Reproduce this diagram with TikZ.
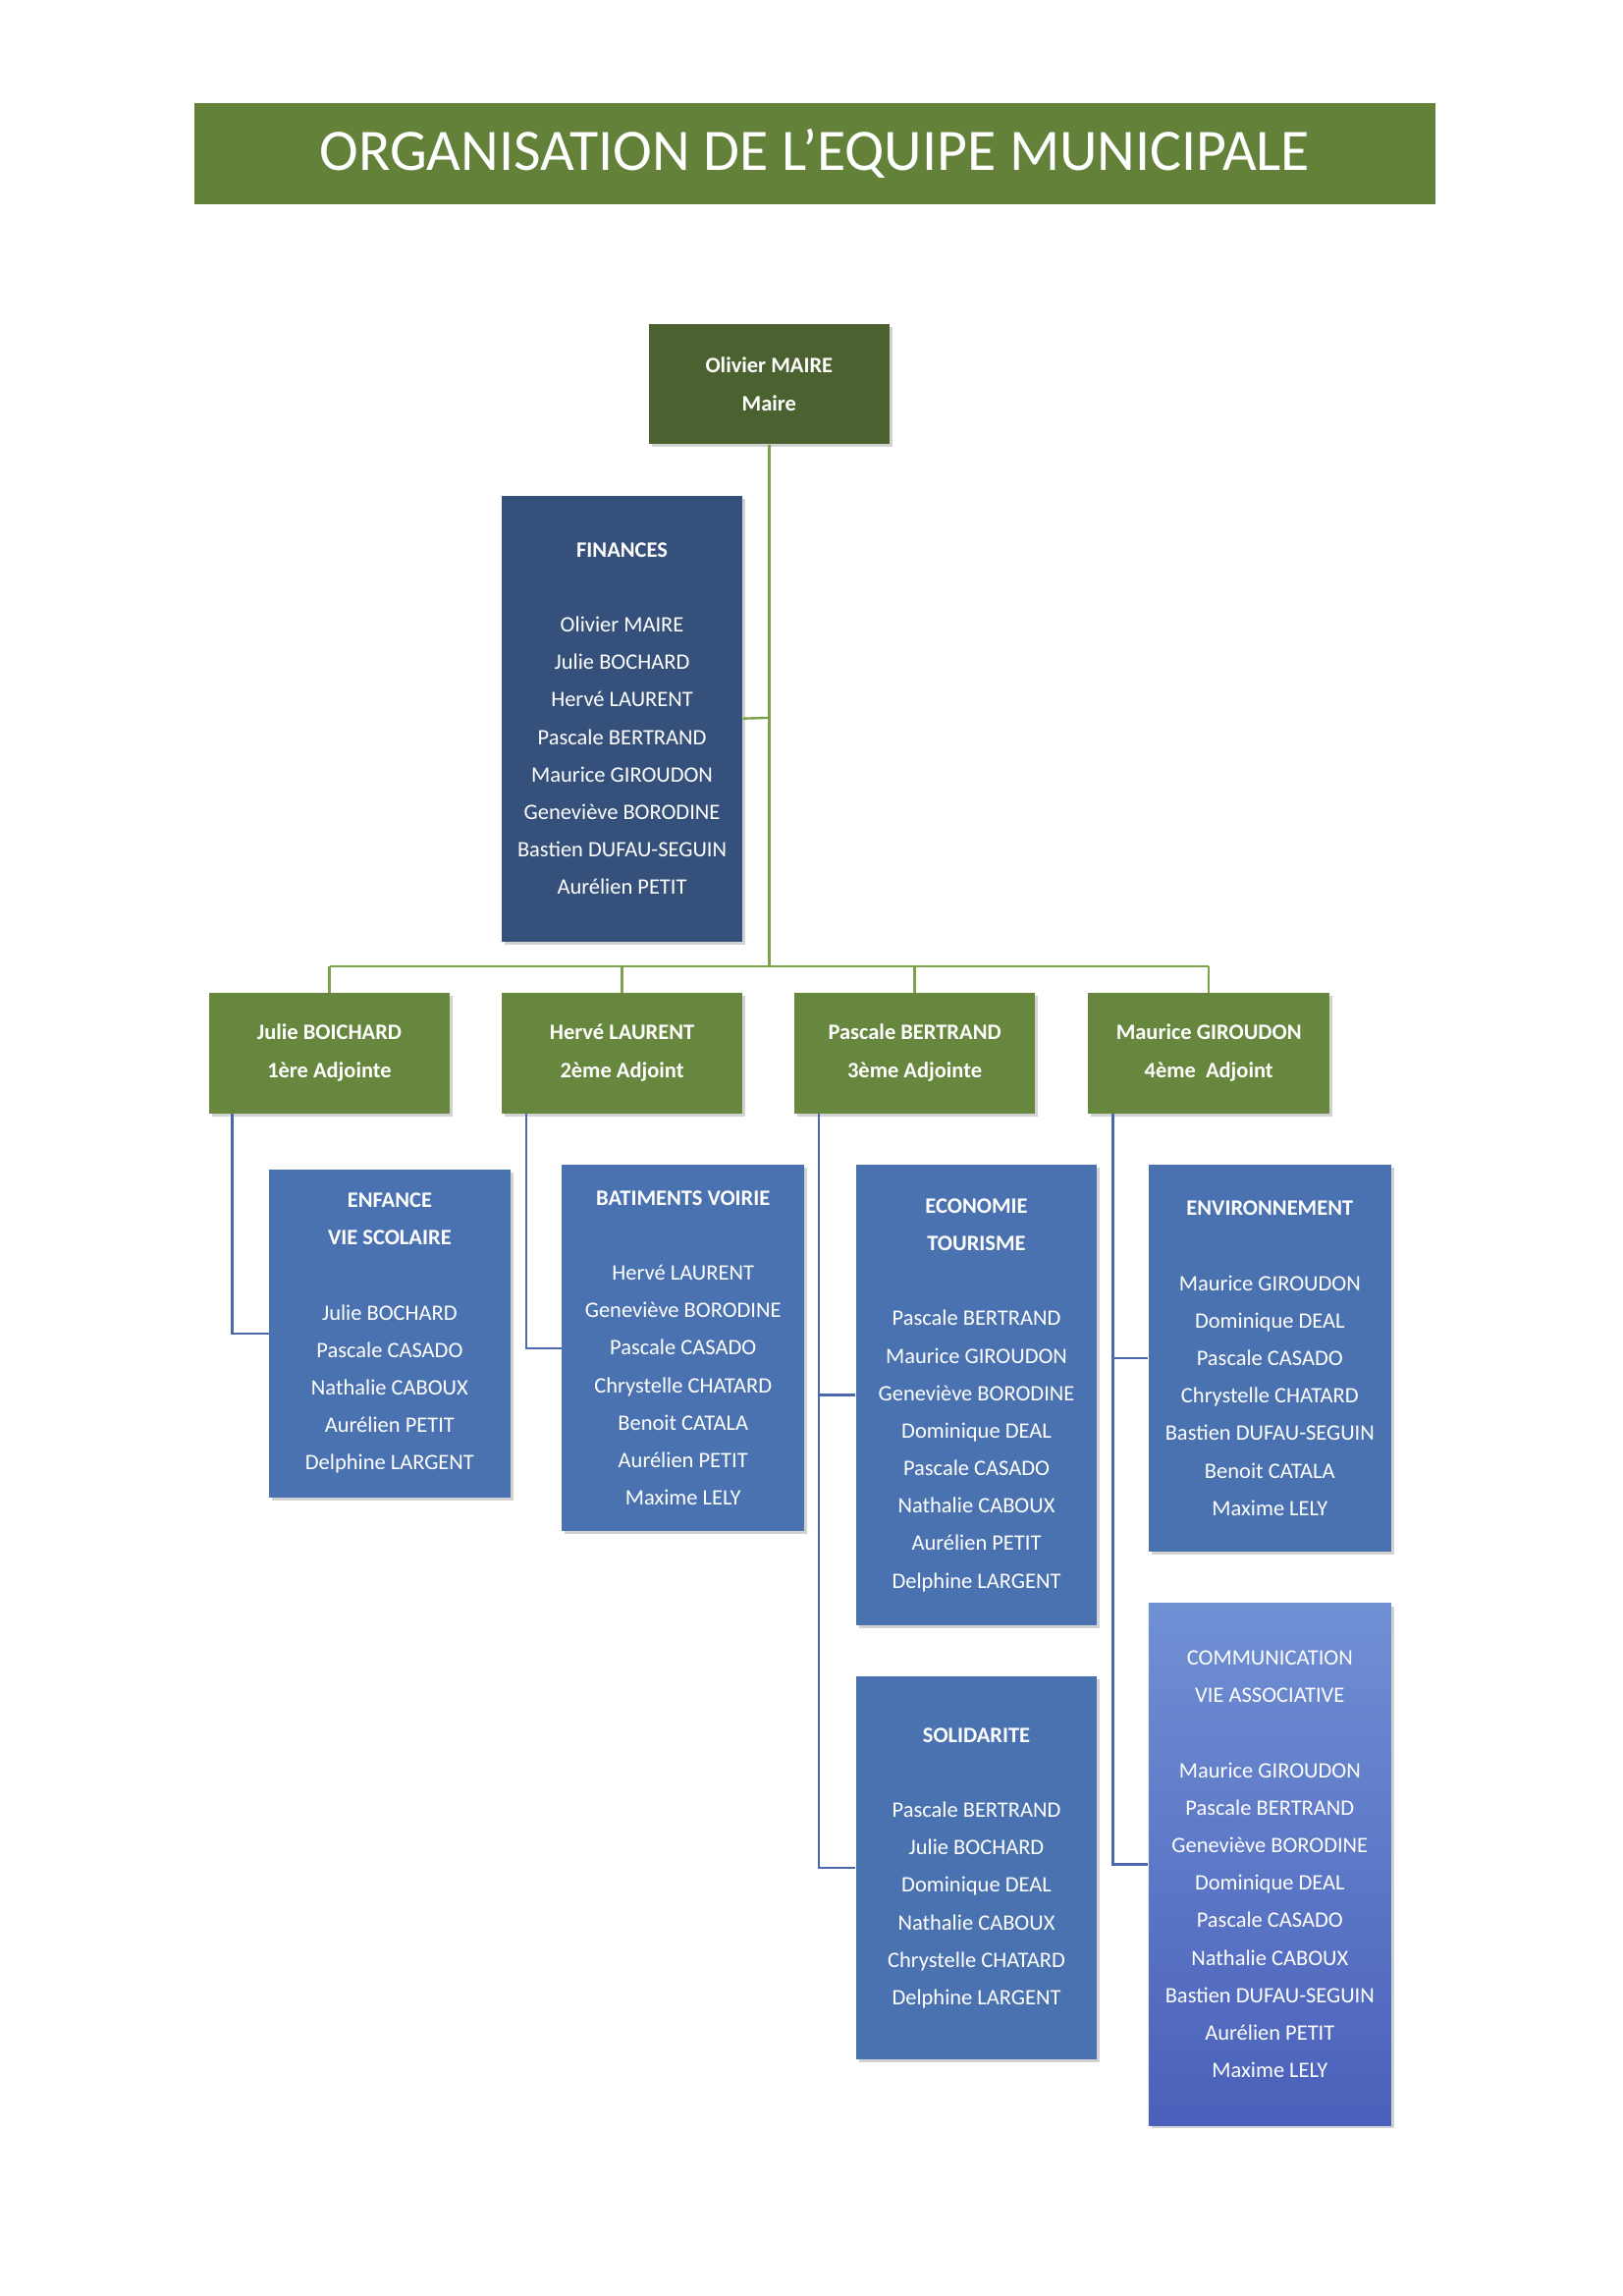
\documentclass[tikz,border=0pt]{standalone}
\usepackage{fontspec}
\setmainfont{Carlito}
\usetikzlibrary{shadows}
\definecolor{tgreen}{HTML}{64813A}
\definecolor{dgreen}{HTML}{4B6230}
\definecolor{agreen}{HTML}{66873D}
\definecolor{dblue}{HTML}{35507B}
\definecolor{mblue}{HTML}{4A72B1}
\definecolor{lgreen}{HTML}{7FA04E}
\definecolor{lblue}{HTML}{4C69B0}
\definecolor{ctop}{HTML}{7090D4}
\definecolor{cbot}{HTML}{4A60BA}
\begin{document}
\begin{tikzpicture}[x=1pt,y=-1pt,
 box/.style={draw=none,text=white,align=center,font=\fontsize{15}{25.5}\selectfont,inner sep=0,drop shadow={shadow xshift=2pt,shadow yshift=-2pt,opacity=0.35}},
 gline/.style={draw=lgreen,line width=1.6pt},
 bline/.style={draw=lblue,line width=1.6pt}]
\useasboundingbox (0,0) rectangle (1103,1561);
\fill[white] (0,0) rectangle (1103,1561);
\node[fill=tgreen,minimum width=844,minimum height=69,text=white,font=\fontsize{40}{40}\selectfont,inner sep=0] (title) at (554,104.5) {ORGANISATION DE L’EQUIPE MUNICIPALE};
\coordinate (j) at (523,657);
\coordinate (jl) at (224,657);
\coordinate (jr) at (822,657);
\coordinate (jf) at (523,488);
\node[box,fill=dgreen,minimum width=164,minimum height=82,font=\bfseries\fontsize{15}{26}\selectfont] (maire) at (523,261) {Olivier MAIRE\\Maire};
\node[box,fill=dblue,minimum width=164,minimum height=303] (fin) at (423,488.5) {\textbf{FINANCES}\\ \\Olivier MAIRE\\Julie BOCHARD\\Hervé LAURENT\\Pascale BERTRAND\\Maurice GIROUDON\\Geneviève BORODINE\\Bastien DUFAU-SEGUIN\\Aurélien PETIT};
\foreach \n/\x/\t in {a1/224/{Julie BOICHARD\\1ère Adjointe},a2/423/{Hervé LAURENT\\2ème Adjoint},a3/622/{Pascale BERTRAND\\3ème Adjointe},a4/822/{Maurice GIROUDON\\4ème~ Adjoint}}
 \node[box,fill=agreen,minimum width=164,minimum height=82,font=\bfseries\fontsize{15}{26}\selectfont] (\n) at (\x,716) {\t};
\node[box,fill=mblue,minimum width=164,minimum height=223] (enf) at (265,906.5) {\textbf{ENFANCE}\\\textbf{VIE SCOLAIRE}\\ \\Julie BOCHARD\\Pascale CASADO\\Nathalie CABOUX\\Aurélien PETIT\\Delphine LARGENT};
\node[box,fill=mblue,minimum width=165,minimum height=249] (bat) at (464.5,916.5) {\textbf{BATIMENTS VOIRIE}\\ \\Hervé LAURENT\\Geneviève BORODINE\\Pascale CASADO\\Chrystelle CHATARD\\Benoit CATALA\\Aurélien PETIT\\Maxime LELY};
\node[box,fill=mblue,minimum width=164,minimum height=313] (eco) at (664,948.5) {\textbf{ECONOMIE}\\\textbf{TOURISME}\\ \\Pascale BERTRAND\\Maurice GIROUDON\\Geneviève BORODINE\\Dominique DEAL\\Pascale CASADO\\Nathalie CABOUX\\Aurélien PETIT\\Delphine LARGENT};
\node[box,fill=mblue,minimum width=164,minimum height=260] (sol) at (664,1270) {\textbf{SOLIDARITE}\\ \\Pascale BERTRAND\\Julie BOCHARD\\Dominique DEAL\\Nathalie CABOUX\\Chrystelle CHATARD\\Delphine LARGENT};
\node[box,fill=mblue,minimum width=165,minimum height=263] (env) at (863.5,923.5) {\textbf{ENVIRONNEMENT}\\ \\Maurice GIROUDON\\Dominique DEAL\\Pascale CASADO\\Chrystelle CHATARD\\Bastien DUFAU-SEGUIN\\Benoit CATALA\\Maxime LELY};
\node[box,top color=ctop,bottom color=cbot,minimum width=165,minimum height=355] (com) at (863.5,1267.5) {COMMUNICATION\\VIE ASSOCIATIVE\\ \\Maurice GIROUDON\\Pascale BERTRAND\\Geneviève BORODINE\\Dominique DEAL\\Pascale CASADO\\Nathalie CABOUX\\Bastien DUFAU-SEGUIN\\Aurélien PETIT\\Maxime LELY};
\draw[gline] (maire.south) -- (j);
\draw[gline] (jl) -- (jr);
\draw[gline] (fin.east) -- (jf);
\draw[gline] (jl) -- (a1.north);
\draw[gline] (a2.north |- j) -- (a2.north);
\draw[gline] (a3.north |- j) -- (a3.north);
\draw[gline] (jr) -- (a4.north);
\draw[bline] ([xshift=16]a1.south west) |- (enf.west);
\draw[bline] ([xshift=17]a2.south west) |- (bat.west);
\draw[bline] ([xshift=17]a3.south west) |- (eco.west);
\draw[bline] ([xshift=17]a3.south west) |- (sol.west);
\draw[bline] ([xshift=17]a4.south west) |- (env.west);
\draw[bline] ([xshift=17]a4.south west) |- (com.west);
\end{tikzpicture}
\end{document}
